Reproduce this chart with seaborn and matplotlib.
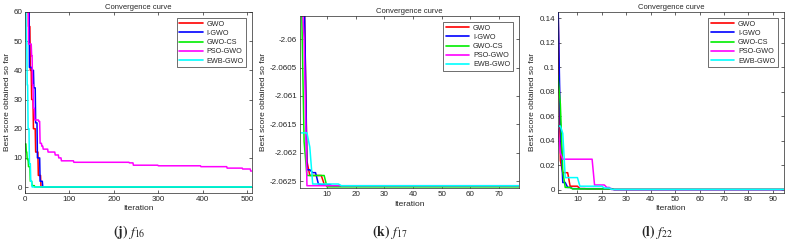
import numpy as np
import pandas as pd
import matplotlib
matplotlib.use('Agg')
import matplotlib.pyplot as plt
import seaborn as sns

## algorithms and colours
algos = ['GWO', 'I-GWO', 'GWO-CS', 'PSO-GWO', 'EWB-GWO']
colors = ['#ff0000', '#0000ff', '#00ee00', '#ff00ff', '#00ffff']

## f16 : breakpoints (iteration, best score) - value is held until next breakpoint
n_j = 511
j_gwo = ([1, 8, 12, 15, 19, 24, 30, 36], [75, 55, 40, 30, 20, 12, 4, 0.05])
j_igwo = ([1, 10, 16, 20, 24, 28, 34, 40], [75, 41, 40, 34, 22, 10, 2, 0.05])
j_gwocs = ([1, 3, 5, 8, 12, 16, 22], [14.8, 12, 9.5, 7, 2, 0.5, 0.05])
j_psogwo = ([1, 8, 15, 17, 19, 22, 31, 34, 38, 41, 52, 68, 76, 82, 110, 235, 244, 300, 396, 455, 490, 508],
            [75, 49, 45, 35, 27, 23, 22.5, 15, 14, 13, 12, 11, 10, 9, 8.5, 8.3, 7.5, 7.3, 7.0, 6.5, 6.2, 5.5])
j_ewbgwo = ([1, 3, 5, 7, 10, 13, 16], [62, 50, 35, 20, 8, 2, 0.05])

## f17
n_k = 77
k_gwo = ([1, 2, 3, 4, 9, 10], [-2.0590, -2.0590, -2.06215, -2.0624, -2.06255, -2.06259])
k_igwo = ([1, 2, 3, 5, 7, 8, 12], [-2.0590, -2.0590, -2.0623, -2.06235, -2.06255, -2.06256, -2.06259])
k_gwocs = ([1, 2, 3, 9, 10], [-2.0590, -2.0618, -2.0624, -2.0624, -2.0626])
k_psogwo = ([1, 2, 3], [-2.0590, -2.0600, -2.06258])
k_ewbgwo = ([1, 3, 4, 5, 15], [-2.06165, -2.06165, -2.0619, -2.06255, -2.06258])

## f22
n_l = 95
l_gwo = ([2, 3, 4, 7, 8, 11, 14, 25], [0.16, 0.024, 0.014, 0.003, 0.003, 0.001, 0.0008, 0.0003])
l_igwo = ([2, 3, 4, 6, 8, 12, 25], [0.16, 0.052, 0.006, 0.002, 0.001, 0.001, 0.0002])
l_gwocs = ([2, 3, 4, 5, 8, 25], [0.093, 0.07, 0.015, 0.002, 0.0008, 0.0004])
l_psogwo = ([2, 3, 4, 16, 17, 22, 24], [0.05, 0.03, 0.025, 0.025, 0.004, 0.002, 0.0003])
l_ewbgwo = ([2, 3, 4, 5, 11, 21, 24], [0.052, 0.052, 0.046, 0.01, 0.003, 0.0015, 0.0004])


def expand(bp, n):
    # best-so-far curve : hold last value until next breakpoint
    its, vals = bp
    x = np.arange(its[0], n + 1)
    idx = np.searchsorted(its, x, side='right') - 1
    return x, np.array(vals)[idx]


def make_df(series, n):
    rows = []
    for name, bp in zip(algos, series):
        x, y = expand(bp, n)
        rows.append(pd.DataFrame({'Iteration': x, 'score': y, 'algo': name}))
    return pd.concat(rows, ignore_index=True)


sns.set_style('ticks')
plt.rcParams['font.family'] = ['Liberation Sans', 'DejaVu Sans']
plt.rcParams['mathtext.fontset'] = 'stix'

fig = plt.figure(figsize=(7.91, 2.48), dpi=100)

panels = [
    ([0.0316, 0.222, 0.287, 0.730], [j_gwo, j_igwo, j_gwocs, j_psogwo, j_ewbgwo], n_j,
     (0, 511), (-2, 60), [0, 100, 200, 300, 400, 500], [0, 10, 20, 30, 40, 50, 60],
     r'$\mathbf{(j)}\ f_{16}$', 0.163),
    ([0.379, 0.242, 0.277, 0.694], [k_gwo, k_igwo, k_gwocs, k_psogwo, k_ewbgwo], n_k,
     (0.5, 77), (-2.06262, -2.05959), [10, 20, 30, 40, 50, 60, 70],
     [-2.06, -2.0605, -2.061, -2.0615, -2.062, -2.0625],
     r'$\mathbf{(k)}\ f_{17}$', 0.493),
    ([0.705, 0.222, 0.286, 0.730], [l_gwo, l_igwo, l_gwocs, l_psogwo, l_ewbgwo], n_l,
     (1.9, 94.5), (-0.0025, 0.145), [10, 20, 30, 40, 50, 60, 70, 80, 90],
     [0, 0.02, 0.04, 0.06, 0.08, 0.1, 0.12, 0.14],
     r'$\mathbf{(l)}\ f_{22}$', 0.831),
]

for rect, series, n, xl, yl, xt, yt, cap, cx in panels:
    ax = fig.add_axes(rect)
    d = make_df(series, n)
    sns.lineplot(data=d, x='Iteration', y='score', hue='algo', palette=colors,
                 hue_order=algos, ax=ax, linewidth=1.1, estimator=None)
    ax.set_xlim(*xl)
    ax.set_ylim(*yl)
    ax.set_xticks(xt)
    ax.set_yticks(yt)
    ax.set_yticklabels([('%g' % v) for v in yt])
    ax.tick_params(direction='in', length=2.5, width=0.5, labelsize=5.8, colors='#262626', pad=2,
                   top=True, right=True)
    for s in ax.spines.values():
        s.set_linewidth(0.5)
        s.set_color('#262626')
    ax.set_title('Convergence curve', fontsize=5.5, pad=2, color='#262626')
    ax.set_xlabel('Iteration', fontsize=6, labelpad=2, color='#262626')
    ax.set_ylabel('Best score obtained so far', fontsize=6, labelpad=2, color='#262626')
    leg = ax.legend(loc='upper right', fontsize=5.2, frameon=True, fancybox=False,
                    edgecolor='black', handlelength=3.2, borderpad=0.4, labelspacing=0.3,
                    handletextpad=0.5, borderaxespad=0.8)
    leg.get_frame().set_linewidth(0.5)
    for h in leg.get_lines():
        h.set_linewidth(1.2)
    fig.text(cx, 0.065, cap, ha='center', va='center', fontsize=10)

fig.savefig('out.png', dpi=100)
